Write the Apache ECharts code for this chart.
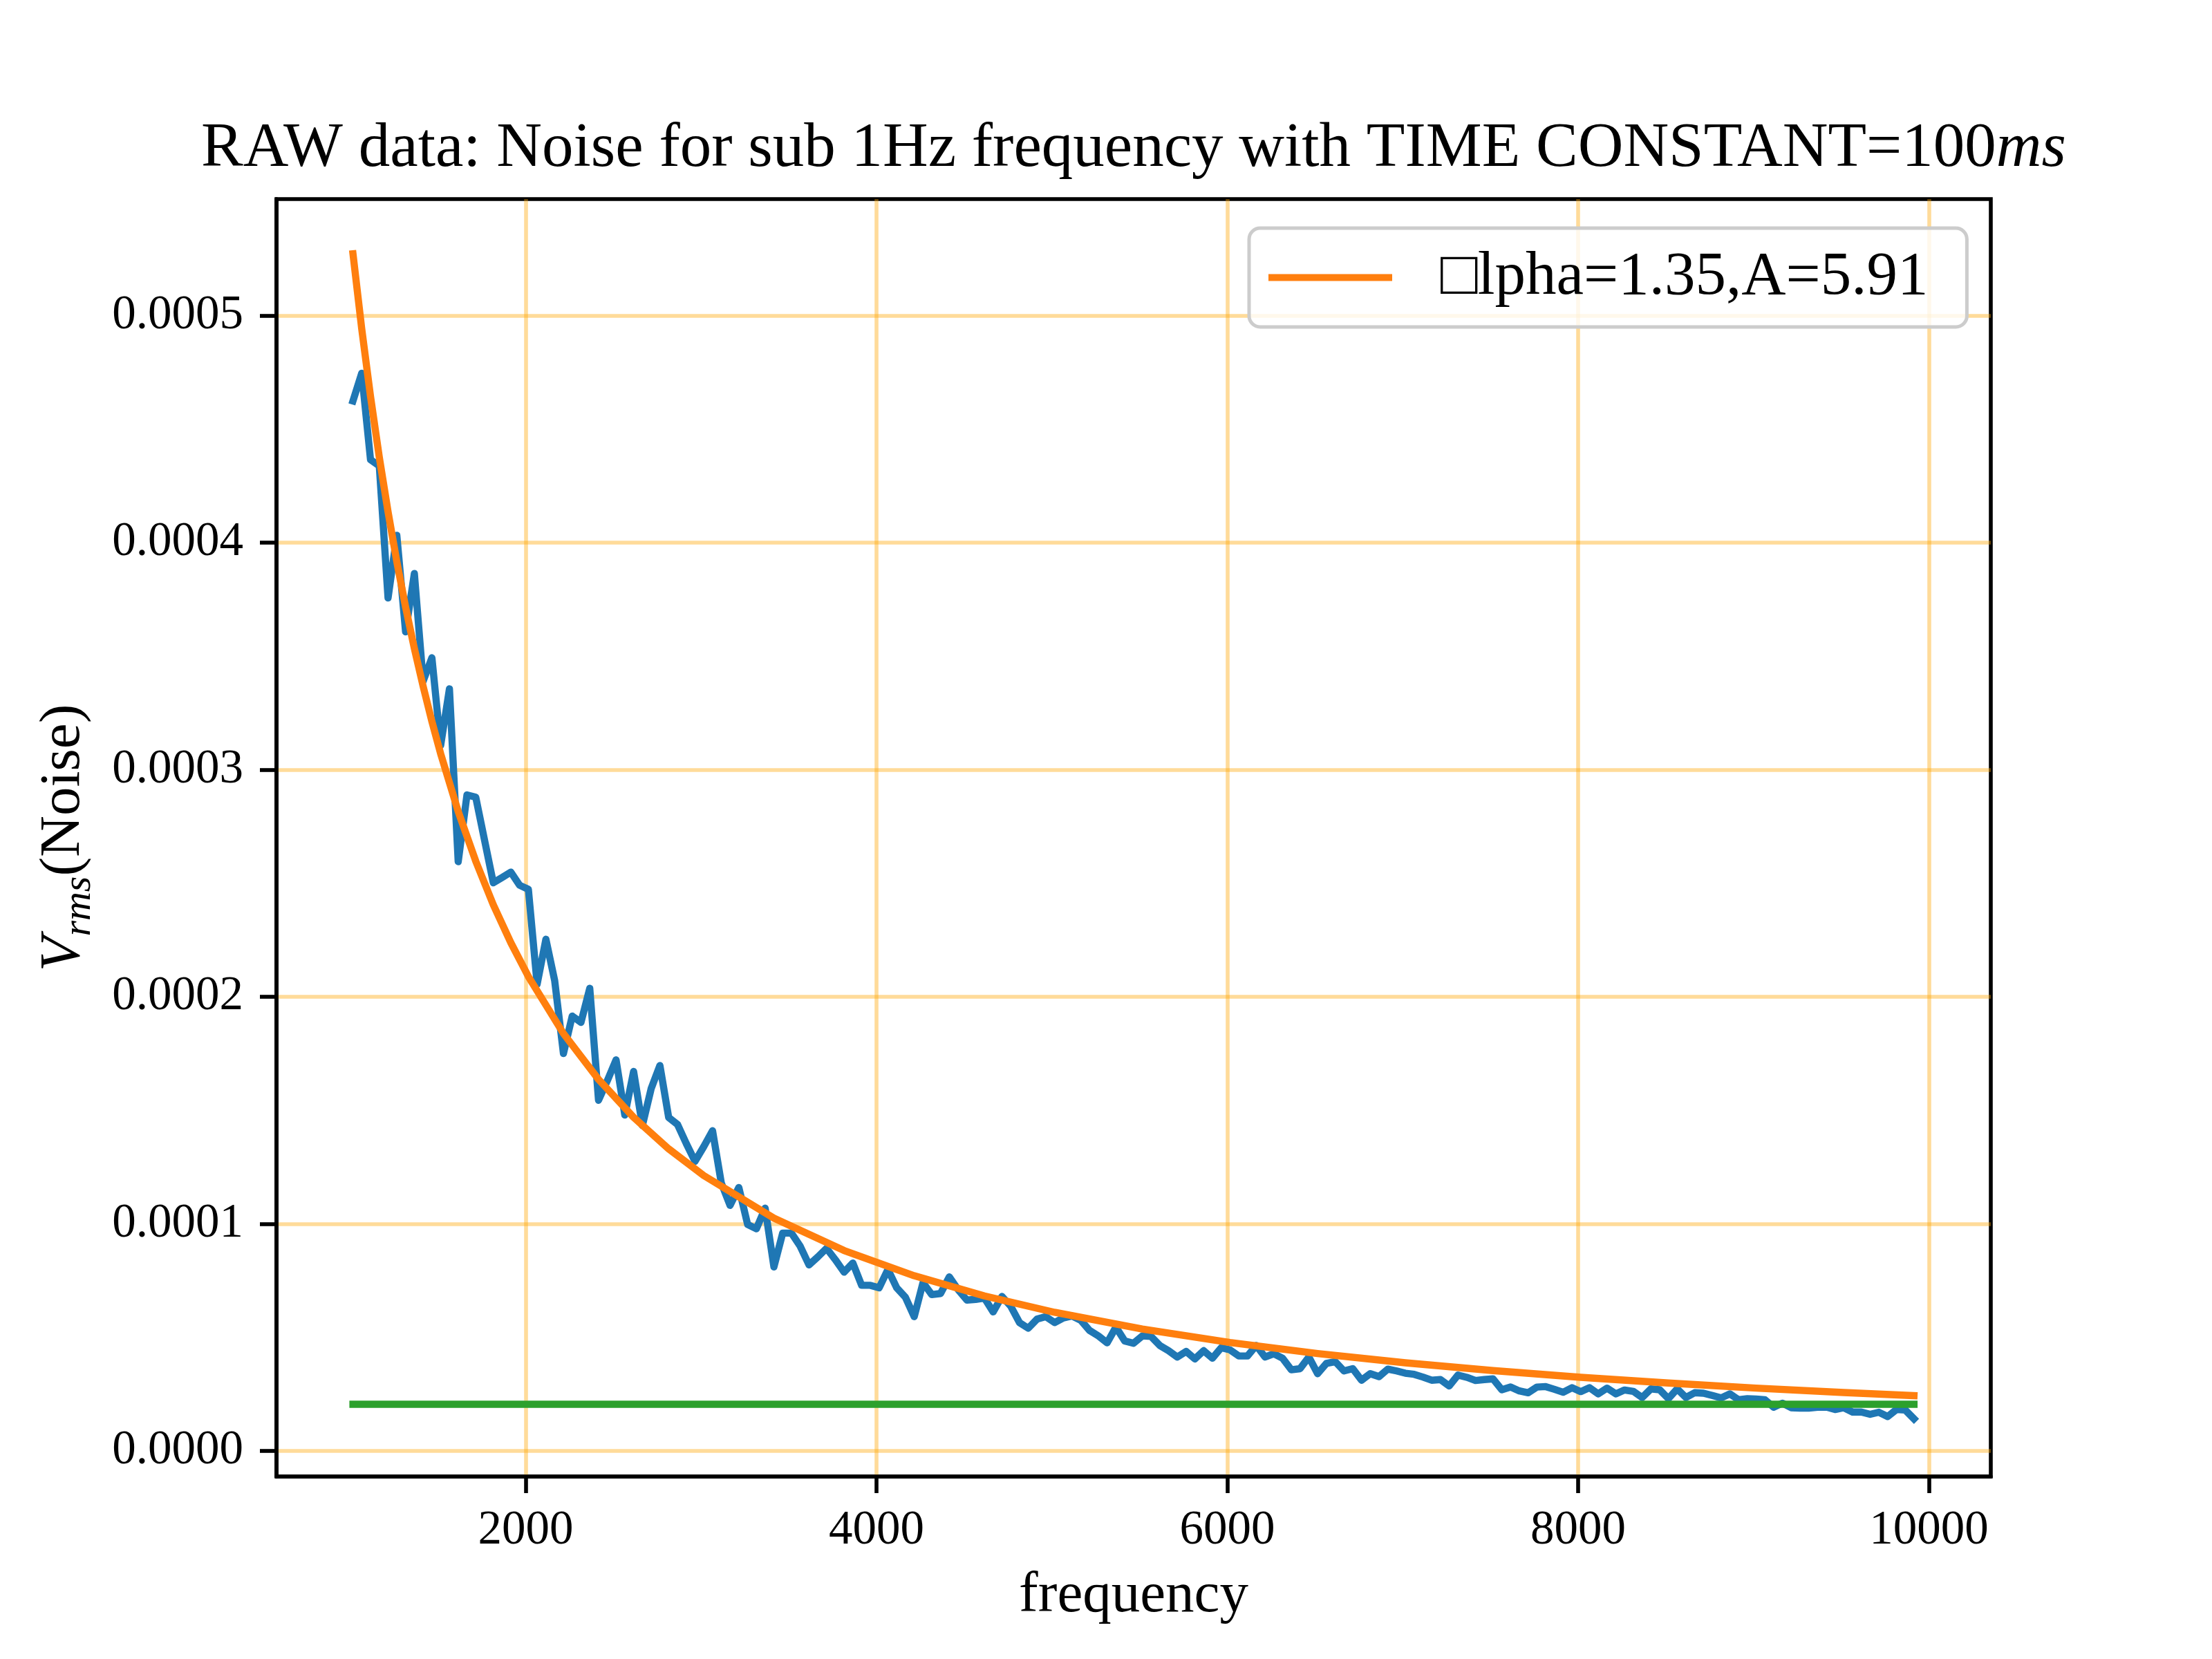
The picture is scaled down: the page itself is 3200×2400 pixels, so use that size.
<!DOCTYPE html>
<html>
<head>
<meta charset="utf-8">
<script src="https://cdn.jsdelivr.net/npm/echarts@6/dist/echarts.min.js"></script>
<style>
  html, body { margin: 0; padding: 0; background: #fff; }
  #main { width: 3200px; height: 2400px; }
</style>
</head>
<body>
<div id="main"></div>
<script>
// measured frequencies (Hz)
const freq = [
  1015, 1065, 1115, 1165, 1215, 1265, 1315, 1365, 1415, 1465,
  1515, 1565, 1615, 1665, 1715, 1765, 1815, 1865, 1915, 1965,
  2015, 2065, 2115, 2165, 2215, 2265, 2315, 2365, 2415, 2465,
  2515, 2565, 2615, 2665, 2715, 2765, 2815, 2865, 2915, 2965,
  3015, 3065, 3115, 3165, 3215, 3265, 3315, 3365, 3415, 3465,
  3515, 3565, 3615, 3665, 3715, 3765, 3815, 3865, 3915, 3965,
  4015, 4065, 4115, 4165, 4215, 4265, 4315, 4365, 4415, 4465,
  4515, 4565, 4615, 4665, 4715, 4765, 4815, 4865, 4915, 4965,
  5015, 5065, 5115, 5165, 5215, 5265, 5315, 5365, 5415, 5465,
  5515, 5565, 5615, 5665, 5715, 5765, 5815, 5865, 5915, 5965,
  6015, 6065, 6115, 6165, 6215, 6265, 6315, 6365, 6415, 6465,
  6515, 6565, 6615, 6665, 6715, 6765, 6815, 6865, 6915, 6965,
  7015, 7065, 7115, 7165, 7215, 7265, 7315, 7365, 7415, 7465,
  7515, 7565, 7615, 7665, 7715, 7765, 7815, 7865, 7915, 7965,
  8015, 8065, 8115, 8165, 8215, 8265, 8315, 8365, 8415, 8465,
  8515, 8565, 8615, 8665, 8715, 8765, 8815, 8865, 8915, 8965,
  9015, 9065, 9115, 9165, 9215, 9265, 9315, 9365, 9415, 9465,
  9515, 9565, 9615, 9665, 9715, 9765, 9815, 9865, 9915
];
// raw noise Vrms
const vrms = [
  4.624e-4, 4.746e-4, 4.365e-4, 4.338e-4, 3.756e-4, 4.032e-4, 3.607e-4, 3.864e-4, 3.390e-4, 3.493e-4,
  3.107e-4, 3.356e-4, 2.595e-4, 2.889e-4, 2.879e-4, 2.690e-4, 2.502e-4, 2.525e-4, 2.549e-4, 2.491e-4,
  2.473e-4, 2.055e-4, 2.253e-4, 2.071e-4, 1.750e-4, 1.915e-4, 1.887e-4, 2.037e-4, 1.544e-4, 1.630e-4,
  1.722e-4, 1.479e-4, 1.671e-4, 1.433e-4, 1.595e-4, 1.697e-4, 1.468e-4, 1.438e-4, 1.354e-4, 1.275e-4,
  1.340e-4, 1.410e-4, 1.180e-4, 1.081e-4, 1.160e-4, 0.997e-4, 0.978e-4, 1.069e-4, 0.810e-4, 0.959e-4,
  0.959e-4, 0.901e-4, 0.819e-4, 0.854e-4, 0.892e-4, 0.842e-4, 0.787e-4, 0.827e-4, 0.729e-4, 0.729e-4,
  0.718e-4, 0.799e-4, 0.718e-4, 0.676e-4, 0.591e-4, 0.741e-4, 0.688e-4, 0.693e-4, 0.766e-4, 0.710e-4,
  0.664e-4, 0.667e-4, 0.673e-4, 0.612e-4, 0.680e-4, 0.637e-4, 0.565e-4, 0.540e-4, 0.580e-4, 0.591e-4,
  0.565e-4, 0.585e-4, 0.594e-4, 0.575e-4, 0.530e-4, 0.506e-4, 0.476e-4, 0.545e-4, 0.484e-4, 0.474e-4,
  0.506e-4, 0.504e-4, 0.464e-4, 0.441e-4, 0.413e-4, 0.438e-4, 0.405e-4, 0.441e-4, 0.408e-4, 0.454e-4,
  0.445e-4, 0.418e-4, 0.418e-4, 0.464e-4, 0.413e-4, 0.428e-4, 0.408e-4, 0.357e-4, 0.362e-4, 0.413e-4,
  0.340e-4, 0.385e-4, 0.393e-4, 0.352e-4, 0.362e-4, 0.311e-4, 0.340e-4, 0.327e-4, 0.360e-4, 0.352e-4,
  0.342e-4, 0.337e-4, 0.325e-4, 0.311e-4, 0.314e-4, 0.286e-4, 0.334e-4, 0.324e-4, 0.310e-4, 0.314e-4,
  0.317e-4, 0.269e-4, 0.281e-4, 0.264e-4, 0.256e-4, 0.281e-4, 0.283e-4, 0.271e-4, 0.258e-4, 0.278e-4,
  0.261e-4, 0.278e-4, 0.251e-4, 0.276e-4, 0.251e-4, 0.268e-4, 0.262e-4, 0.235e-4, 0.273e-4, 0.269e-4,
  0.230e-4, 0.273e-4, 0.235e-4, 0.256e-4, 0.254e-4, 0.244e-4, 0.233e-4, 0.251e-4, 0.225e-4, 0.230e-4,
  0.228e-4, 0.225e-4, 0.192e-4, 0.210e-4, 0.190e-4, 0.188e-4, 0.188e-4, 0.192e-4, 0.193e-4, 0.182e-4,
  0.190e-4, 0.171e-4, 0.171e-4, 0.161e-4, 0.170e-4, 0.151e-4, 0.182e-4, 0.180e-4, 0.141e-4
];
// power-law fit
const fitFreq = [
  1015, 1065, 1115, 1165, 1215, 1265, 1315, 1365, 1415, 1465, 1515, 1615,
  1715, 1815, 1915, 2015, 2215, 2415, 2615, 2815, 3015, 3415, 3815, 4215,
  4615, 5015, 5515, 6015, 6515, 7015, 7515, 8015, 8515, 9015, 9515, 9915
];
const fitVals = [
  5.272e-4, 4.941e-4, 4.644e-4, 4.377e-4, 4.136e-4, 3.916e-4, 3.716e-4, 3.534e-4, 3.367e-4, 3.212e-4, 3.070e-4, 2.816e-4,
  2.597e-4, 2.405e-4, 2.238e-4, 2.089e-4, 1.838e-4, 1.636e-4, 1.469e-4, 1.330e-4, 1.2125e-4, 1.0247e-4, 0.8824e-4, 0.7713e-4,
  0.6825e-4, 0.6101e-4, 0.5366e-4, 0.4773e-4, 0.4285e-4, 0.3878e-4, 0.3534e-4, 0.3240e-4, 0.2986e-4, 0.2764e-4, 0.2570e-4, 0.2430e-4
];
// flat reference level
const refFreq = [1015, 9915];
const refVals = [2.05e-5, 2.05e-5];

const xTicks = [2000, 4000, 6000, 8000, 10000];
const yTicks = [0, 0.0001, 0.0002, 0.0003, 0.0004, 0.0005];

const fitName = '\u25A1lpha=1.35,A=5.91';
const serif = "'Liberation Serif', 'DejaVu Serif', serif";
const gridColor = 'rgba(255,165,0,0.4)';

const chart = echarts.init(document.getElementById('main'));

chart.setOption({
  animation: false,
  backgroundColor: '#fff',
  textStyle: { fontFamily: serif, color: '#000' },
  grid: {
    left: 400, right: 320, top: 288, bottom: 264,
    show: true, borderColor: '#000', borderWidth: 5.6, backgroundColor: 'transparent'
  },
  graphic: [{
    type: 'text',
    x: 1640, y: 216,
    style: {
      text: '{a|RAW data: Noise for sub 1Hz frequency with TIME CONSTANT=100}{b|ms}',
      align: 'center', verticalAlign: 'middle',
      rich: {
        a: { fontSize: 91, fontFamily: serif, fill: '#000' },
        b: { fontSize: 91, fontFamily: serif, fontStyle: 'italic', fill: '#000' }
      }
    }
  }],
  legend: {
    data: [fitName],
    left: 1807, top: 330,
    icon: 'rect', itemWidth: 179, itemHeight: 10,
    padding: [27, 56, 27, 28],
    backgroundColor: 'rgba(255,255,255,0.8)',
    borderColor: '#cccccc', borderWidth: 5, borderRadius: 16,
    textStyle: { fontSize: 89, fontFamily: serif, color: '#000', padding: [0, 0, 0, 65] }
  },
  xAxis: {
    type: 'value', min: 579, max: 10353,
    name: 'frequency', nameLocation: 'middle', nameGap: 132,
    nameTextStyle: { fontSize: 83, fontFamily: serif, color: '#000' },
    axisLine: { show: true, onZero: false, lineStyle: { color: '#000', width: 5.6 } },
    axisTick: { show: true, inside: false, length: 24, customValues: xTicks,
      lineStyle: { color: '#000', width: 5.6 } },
    axisLabel: { customValues: xTicks, margin: 44, fontSize: 69, fontFamily: serif, color: '#000',
      formatter: v => String(v) },
    splitLine: { show: true, lineStyle: { color: gridColor, width: 5.6 } }
  },
  yAxis: {
    type: 'value', min: -0.0000113, max: 0.0005513,
    name: '{v|V}{s|rms}{n|(Noise)}', nameLocation: 'middle', nameGap: 266, nameRotate: 90,
    nameTextStyle: {
      color: '#000',
      rich: {
        v: { fontSize: 83, fontFamily: serif, fontStyle: 'italic', verticalAlign: 'top', lineHeight: 83 },
        s: { fontSize: 58, fontFamily: serif, fontStyle: 'italic', verticalAlign: 'top', lineHeight: 58, padding: [35, 0, 0, 0] },
        n: { fontSize: 83, fontFamily: serif, verticalAlign: 'top', lineHeight: 83 }
      }
    },
    axisLine: { show: true, onZero: false, lineStyle: { color: '#000', width: 5.6 } },
    axisTick: { show: true, inside: false, length: 24, customValues: yTicks,
      lineStyle: { color: '#000', width: 5.6 } },
    axisLabel: { customValues: yTicks, margin: 48, fontSize: 69, fontFamily: serif, color: '#000',
      formatter: v => v.toFixed(4) },
    splitLine: { show: true, lineStyle: { color: gridColor, width: 5.6 } }
  },
  series: [
    {
      name: 'raw', type: 'line', symbol: 'none', z: 2,
      data: freq.map((f, i) => [f, vrms[i]]),
      itemStyle: { color: '#1f77b4' },
      lineStyle: { color: '#1f77b4', width: 10.4, cap: 'square', join: 'round' }
    },
    {
      name: fitName, type: 'line', symbol: 'none', z: 3,
      data: fitFreq.map((f, i) => [f, fitVals[i]]),
      itemStyle: { color: '#ff7f0e' },
      lineStyle: { color: '#ff7f0e', width: 10.4, cap: 'square', join: 'round' }
    },
    {
      name: 'level', type: 'line', symbol: 'none', z: 4,
      data: refFreq.map((f, i) => [f, refVals[i]]),
      itemStyle: { color: '#2ca02c' },
      lineStyle: { color: '#2ca02c', width: 10.4, cap: 'square' }
    }
  ]
});
</script>
</body>
</html>
